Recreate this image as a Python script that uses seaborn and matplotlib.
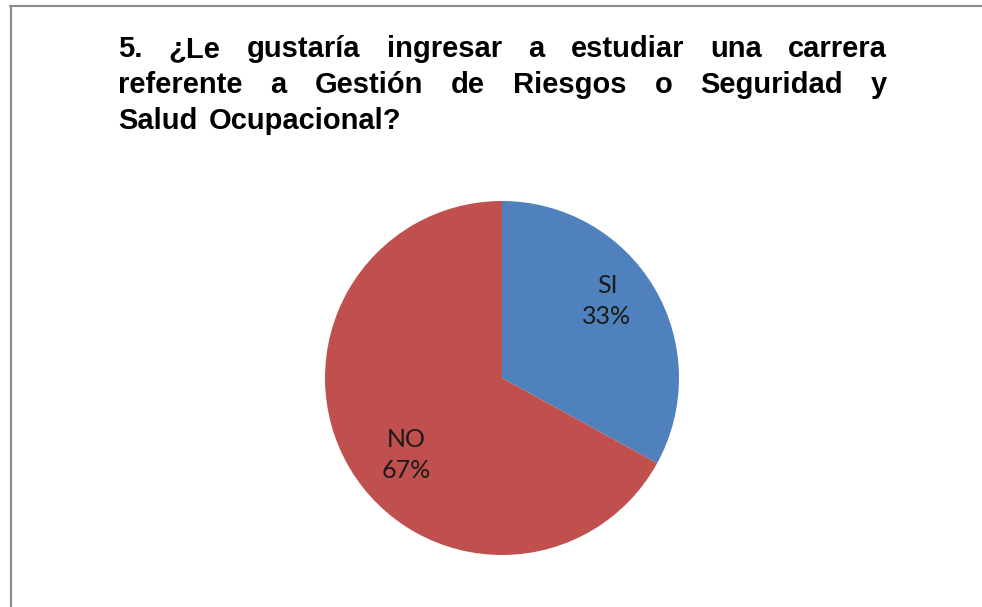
import numpy as np
import matplotlib.pyplot as plt
import seaborn as sns
from matplotlib.lines import Line2D

# datos
respuestas = ["SI", "NO"]
porcentajes = [33, 67]
colores = ["#4F81BD", "#C0504D"]
titulo = ["5. ¿Le gustaría ingresar a estudiar una carrera",
          "referente a Gestión de Riesgos o Seguridad y",
          "Salud Ocupacional?"]

sns.set_theme(style="white")
plt.rcParams['font.family'] = ['Liberation Sans', 'DejaVu Sans']

W, H = 982, 607
fig = plt.figure(figsize=(W / 100, H / 100), dpi=100, facecolor="white")

# borde del grafico (izquierda y arriba)
fig.add_artist(Line2D([10.5 / W, 10.5 / W], [0, 1 - 6 / H], color="#8a8a8a", lw=1.5))
fig.add_artist(Line2D([10 / W, 1], [1 - 6 / H, 1 - 6 / H], color="#8a8a8a", lw=1.5))

# pastel: centro (502, 378) px, radio 177 px
r, cx, cy = 177, 502, 378
ax = fig.add_axes([(cx - r) / W, 1 - (cy + r) / H, 2 * r / W, 2 * r / H])
wedges, _ = ax.pie(porcentajes, colors=colores, startangle=90, counterclock=False,
                   wedgeprops=dict(linewidth=0))
ax.set_xlim(-1, 1)
ax.set_ylim(-1, 1)
ax.set_aspect("equal")
ax.axis("off")

# etiquetas dentro de cada sector
pos_etiquetas = [(0.593, 0.435), (-0.542, -0.435)]
for resp, pct, (px, py) in zip(respuestas, porcentajes, pos_etiquetas):
    ax.text(px, py, f"{resp}\n{pct}%", ha="center", va="center", fontsize=18,
            family=["Lato", "DejaVu Sans"], color="#1a1a1a", linespacing=1.45)

# titulo justificado
fig.canvas.draw()
renderer = fig.canvas.get_renderer()
x0, x1 = 118, 887
baselines = [57, 93, 129]
for i, linea in enumerate(titulo):
    palabras = linea.split()
    objs = [fig.text(0, 1 - baselines[i] / H, p, fontsize=21, fontweight="bold",
                     va="baseline", ha="left", color="black") for p in palabras]
    anchos = [t.get_window_extent(renderer).width for t in objs]
    if i < len(titulo) - 1:
        gap = (x1 - x0 - sum(anchos)) / (len(palabras) - 1)
    else:
        gap = 11
    x = x0
    for t, w in zip(objs, anchos):
        t.set_x(x / W)
        x += w + gap

fig.savefig("out.png", dpi=100, facecolor="white")
